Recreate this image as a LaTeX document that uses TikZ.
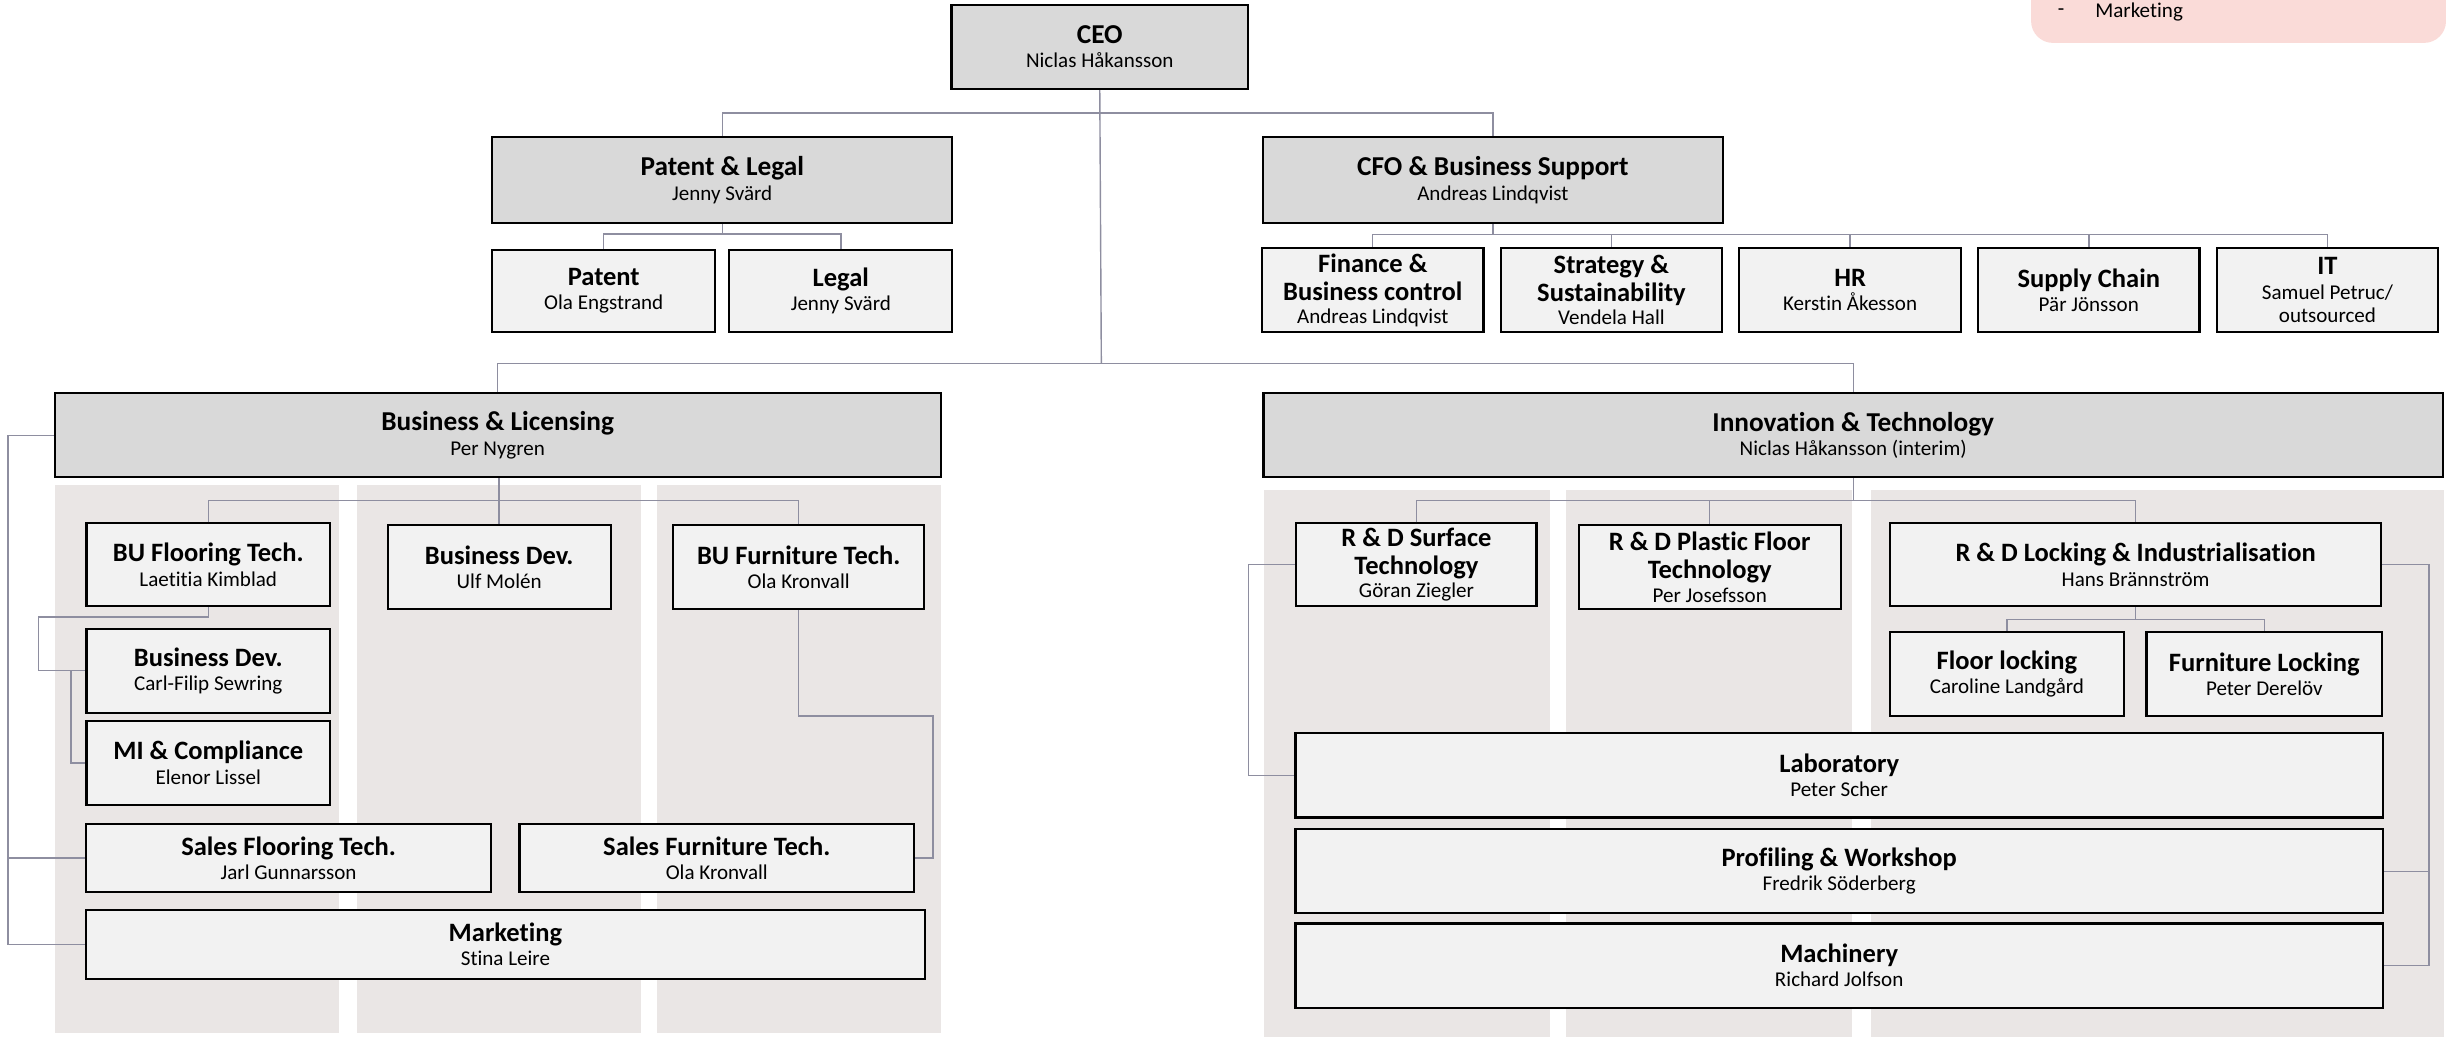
\documentclass[tikz,border=0pt]{standalone}
\usepackage{fontspec}
\setmainfont{Carlito}[Ligatures=NoCommon]
\definecolor{headfill}{HTML}{D9D9D9}
\definecolor{boxfill}{HTML}{F2F2F2}
\definecolor{colfill}{HTML}{EAE6E5}
\definecolor{conncol}{HTML}{8E8EA0}
\definecolor{pinkfill}{HTML}{FADBD8}
\newcommand\who[1]{{\fontsize{13.5}{15}\selectfont\mdseries #1}}
\tikzset{
  box/.style={draw=black, line width=1.4pt, fill=boxfill, align=center, inner sep=1pt,
    font=\fontsize{17}{18}\selectfont\bfseries, execute at begin node={\rule{0pt}{20pt}}},
  head/.style={box, fill=headfill, font=\fontsize{17.5}{18.5}\selectfont\bfseries},
  conn/.style={draw=conncol, line width=0.9pt},
  colbg/.style={fill=colfill, draw=none},
  note/.style={anchor=west, inner sep=0pt, font=\fontsize{13.5}{15}\selectfont}
}
\begin{document}
\begin{tikzpicture}[x=1pt,y=-1pt]
\useasboundingbox (0,0) rectangle (1568,667);
% pink note
\begin{scope}
\clip (0,0) rectangle (1568,667);
\fill[pinkfill, rounded corners=14pt] (1302,-60) rectangle (1568,27.5);
\end{scope}
\node[note] (bul) at (1319,8) {-};
\node[note] (mk) at (1343,8) {Marketing};
% column backgrounds
\fill[colbg] (35,311) rectangle (217,662);
\fill[colbg] (229,311) rectangle (411,662);
\fill[colbg] (421,311) rectangle (603,662);
\fill[colbg] (810,314) rectangle (993.5,665);
\fill[colbg] (1004,314) rectangle (1187.5,665);
\fill[colbg] (1199.5,314) rectangle (1567,665);
% top
\node[head, minimum width=190pt, minimum height=54pt] (ceo) at (705,30) {CEO\\[-3pt]\who{Niclas Håkansson}};
\node[head, minimum width=295pt, minimum height=55pt] (pl) at (463,115.5) {Patent \& Legal\\[-3pt]\who{Jenny Svärd}};
\node[head, minimum width=295pt, minimum height=55pt] (cfo) at (957,115.5) {CFO \& Business Support\\[-3pt]\who{Andreas Lindqvist}};
\node[box, minimum width=143pt, minimum height=53pt] (patent) at (387,186.5) {Patent\\[-2.5pt]\who{Ola Engstrand}};
\node[box, minimum width=143pt, minimum height=53pt] (legal) at (539,186.5) {Legal\\[-2.5pt]\who{Jenny Svärd}};
\node[box, minimum width=142pt, minimum height=54pt] (fin) at (880,186) {Finance \&\\Business control\\[-3pt]\who{Andreas Lindqvist}};
\node[box, minimum width=142pt, minimum height=54pt] (strat) at (1033,186) {Strategy \&\\Sustainability\\[-3pt]\who{Vendela Hall}};
\node[box, minimum width=142pt, minimum height=54pt] (hr) at (1186,186) {HR\\[-2.5pt]\who{Kerstin Åkesson}};
\node[box, minimum width=142pt, minimum height=54pt] (sc) at (1339,186) {Supply Chain\\[-2.5pt]\who{Pär Jönsson}};
\node[box, minimum width=142pt, minimum height=54pt] (itb) at (1492,186) {IT\\[-2.5pt]\who{Samuel Petruc/}\\[-3pt]\who{outsourced}};
% level 2
\node[head, minimum width=568pt, minimum height=54pt] (bl) at (319,279) {Business \& Licensing\\[-3pt]\who{Per Nygren}};
\node[head, minimum width=756pt, minimum height=54pt] (inno) at (1188,279) {Innovation \& Technology\\[-3pt]\who{Niclas Håkansson (interim)}};
% B&L children
\node[box, minimum width=156pt, minimum height=53pt] (buf) at (133.5,362) {BU Flooring Tech.\\[-2.5pt]\who{Laetitia Kimblad}};
\node[box, minimum width=143pt, minimum height=54pt] (bdu) at (320,363.5) {Business Dev.\\[-2.5pt]\who{Ulf Molén}};
\node[box, minimum width=161pt, minimum height=54pt] (bufu) at (512,363.5) {BU Furniture Tech.\\[-2.5pt]\who{Ola Kronvall}};
\node[box, minimum width=156pt, minimum height=54pt] (bd2) at (133.5,430) {Business Dev.\\[-2.5pt]\who{Carl-Filip Sewring}};
\node[box, minimum width=156pt, minimum height=54pt] (mi) at (133.5,489) {MI \& Compliance\\[-2.5pt]\who{Elenor Lissel}};
\node[box, minimum width=260pt, minimum height=44pt] (sfl) at (185,550) {Sales Flooring Tech.\\[-2.5pt]\who{Jarl Gunnarsson}};
\node[box, minimum width=253pt, minimum height=44pt] (sfu) at (459.5,550) {Sales Furniture Tech.\\[-2.5pt]\who{Ola Kronvall}};
\node[box, minimum width=538pt, minimum height=44pt] (mkt) at (324,605.5) {Marketing\\[-2.5pt]\who{Stina Leire}};
% I&T children
\node[box, minimum width=154pt, minimum height=53pt] (rds) at (908,362) {R \& D Surface\\Technology\\[-3pt]\who{Göran Ziegler}};
\node[box, minimum width=168pt, minimum height=54pt] (rdp) at (1096,363.5) {R \& D Plastic Floor\\Technology\\[-3pt]\who{Per Josefsson}};
\node[box, minimum width=315pt, minimum height=53pt] (rdl) at (1369,362) {R \& D Locking \& Industrialisation\\[-2.5pt]\who{Hans Brännström}};
\node[box, minimum width=150pt, minimum height=54pt] (fl) at (1286.5,432) {Floor locking\\[-2.5pt]\who{Caroline Landgård}};
\node[box, minimum width=151pt, minimum height=54pt] (ful) at (1451.5,432) {Furniture Locking\\[-2.5pt]\who{Peter Derelöv}};
\node[box, minimum width=697pt, minimum height=54pt] (lab) at (1179,497) {Laboratory\\[-2.5pt]\who{Peter Scher}};
\node[box, minimum width=697pt, minimum height=54pt] (prof) at (1179,558.5) {Profiling \& Workshop\\[-2.5pt]\who{Fredrik Söderberg}};
\node[box, minimum width=697pt, minimum height=54pt] (mach) at (1179,619) {Machinery\\[-2.5pt]\who{Richard Jolfson}};
% connectors
\coordinate (j1) at (706,72.5);
\coordinate (j2) at (706,233);
\draw[conn] (ceo.south) -- (j2);
\draw[conn] (pl.north) |- (j1) -| (cfo.north);
\draw[conn] (bl.north) |- (j2) -| (inno.north);
\coordinate (j3) at (463,150);
\draw[conn] (pl.south) -- (j3);
\draw[conn] (patent.north) |- (j3) -| (legal.north);
\coordinate (j4) at (957,150.5);
\draw[conn] (cfo.south) -- (j4);
\draw[conn] (fin.north) |- (j4) -| (itb.north);
\draw[conn] (strat.north) -- (strat.north |- j4);
\draw[conn] (hr.north) -- (hr.north |- j4);
\draw[conn] (sc.north) -- (sc.north |- j4);
\coordinate (j5) at (320,321);
\draw[conn] (bdu.north |- bl.south) -- (bdu.north);
\draw[conn] (buf.north) |- (j5) -| (bufu.north);
\coordinate (c1) at (24.5,395.5);
\draw[conn] (buf.south) |- (c1) |- (bd2.west);
\coordinate (c2) at (45.5,430);
\draw[conn] (c2) |- (mi.west);
\coordinate (c3) at (5,279);
\draw[conn] (bl.west) -- (c3) |- (mkt.west);
\draw[conn] (c3 |- sfl.west) -- (sfl.west);
\coordinate (c4) at (598,459);
\draw[conn] (bufu.south) |- (c4) |- (sfu.east);
\coordinate (j6) at (1188,321);
\draw[conn] (inno.south) -- (j6);
\draw[conn] (rds.north) |- (j6) -| (rdl.north);
\draw[conn] (rdp.north) -- (rdp.north |- j6);
\coordinate (j7) at (1369,397);
\draw[conn] (rdl.south) -- (j7);
\draw[conn] (fl.north) |- (j7) -| (ful.north);
\coordinate (c5) at (800.5,362);
\draw[conn] (rds.west) -- (c5) |- (lab.west);
\coordinate (c6) at (1557,362);
\draw[conn] (rdl.east) -- (c6) |- (mach.east);
\draw[conn] (c6 |- prof.east) -- (prof.east);
\end{tikzpicture}
\end{document}
